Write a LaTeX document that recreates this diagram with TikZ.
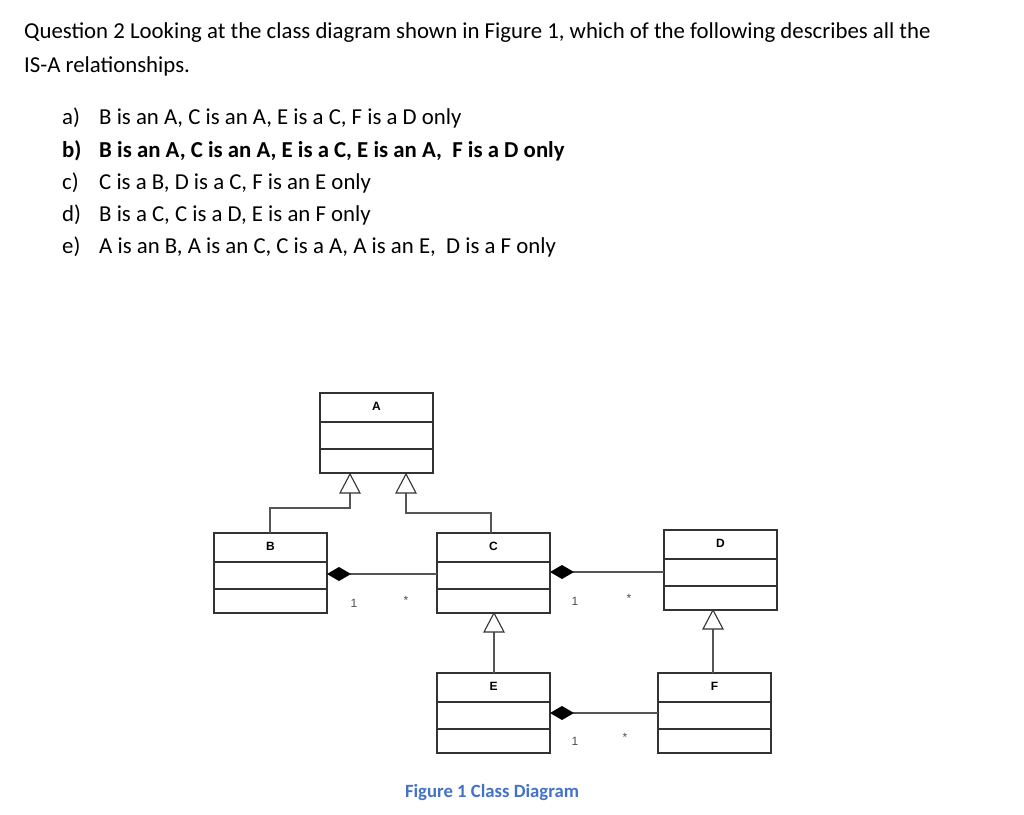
\documentclass[tikz,border=0pt]{standalone}
\usepackage{fontspec}
\setmainfont{Carlito}
\newfontfamily\arialf{Liberation Sans}
\definecolor{capblue}{HTML}{4472C4}
\definecolor{linegray}{HTML}{555555}
\begin{document}
\begin{tikzpicture}[x=1pt,y=-1pt,
  txt/.style={anchor=west,inner sep=0pt,font=\fontsize{22.8}{26}\selectfont},
  lbl/.style={inner sep=0pt,font=\arialf\bfseries\fontsize{12}{14}\selectfont},
  mult/.style={inner sep=0pt,font=\arialf\fontsize{12}{14}\selectfont,text=black!70},
  conn/.style={draw=linegray,line width=1.3pt},
  boxl/.style={draw=black!80,line width=1.3pt},
  tri/.style={draw=black!80,fill=white,line width=1.1pt},
  dia/.style={fill=black}]
\useasboundingbox (0,0) rectangle (1024,814);
\node[txt] (q1) at (24,33) {Question 2 Looking at the class diagram shown in Figure 1, which of the following describes all the};
\node[txt] (q2) at (24,66) {IS-A relationships.};
\foreach \y/\l/\t in {118/a)/{B is an A, C is an A, E is a C, F is a D only},
  183/c)/{C is a B, D is a C, F is an E only},
  215/d)/{B is a C, C is a D, E is an F only},
  247/e)/{A is an B, A is an C, C is a A, A is an E,\ \ D is a F only}}{
  \node[txt] at (62,\y) {\l};
  \node[txt] at (99,\y) {\t};}
\node[txt,font=\fontsize{22.8}{26}\selectfont\bfseries] (ob) at (62,151) {b)};
\node[txt,font=\fontsize{22.8}{26}\selectfont\bfseries] (tb) at (99,151) {B is an A, C is an A, E is a C, E is an A,\ \ F is a D only};
% classes
\foreach \n/\xa/\ya in {A/320/393, B/214/533, C/437/533, D/664/530, E/437/673, F/658/673}{
  \draw[boxl] (\xa,\ya) rectangle ++(113,80);
  \draw[boxl] (\xa,\ya+29) -- ++(113,0);
  \draw[boxl] (\xa,\ya+56) -- ++(113,0);
  \coordinate (\n) at (\xa+56.5,\ya+40);
  \node[lbl] (\n l) at (\xa+56.5,\ya+13) {\n};
}
% generalizations
\draw[conn] (270,533) -- (270,508) -- (350,508) -- (350,492);
\draw[tri] (350,474) -- (360,493) -- (340,493) -- cycle;
\draw[conn] (491,533) -- (491,513) -- (406,513) -- (406,492);
\draw[tri] (406,474) -- (416,493) -- (396,493) -- cycle;
\draw[conn] (494,673) -- (494,632);
\draw[tri] (494,613) -- (504,632) -- (484,632) -- cycle;
\draw[conn] (713,673) -- (713,629);
\draw[tri] (713,610) -- (723,629) -- (703,629) -- cycle;
% compositions
\draw[conn] (350,574) -- (437,574);
\fill[dia] (327,574) -- (339,567) -- (351,574) -- (339,581) -- cycle;
\node[mult] at (354,603) {1};
\node[mult] at (406,600) {*};
\draw[conn] (573,572) -- (664,572);
\fill[dia] (550,572) -- (562,565) -- (574,572) -- (562,579) -- cycle;
\node[mult] at (575,601) {1};
\node[mult] at (629,598) {*};
\draw[conn] (573,713) -- (658,713);
\fill[dia] (550,713) -- (562,706) -- (574,713) -- (562,720) -- cycle;
\node[mult] at (575,741) {1};
\node[mult] at (625,737) {*};
\node[inner sep=0pt,font=\fontsize{18.7}{22}\selectfont\bfseries,text=capblue] (cap) at (492,793) {Figure 1 Class Diagram};
\end{tikzpicture}
\end{document}
